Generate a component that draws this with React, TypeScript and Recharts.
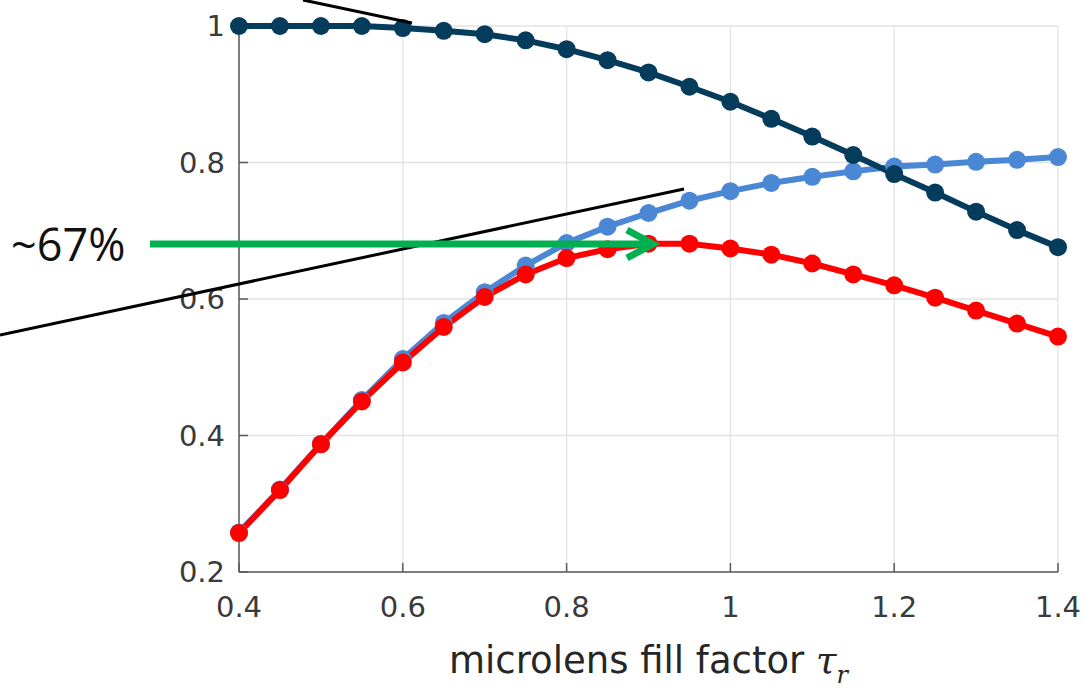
import { CartesianGrid, Line, LineChart, XAxis, YAxis } from 'recharts'

// microlens fill factor, sampled every 0.05
const fillFactor = [0.4, 0.45, 0.5, 0.55, 0.6, 0.65, 0.7, 0.75, 0.8, 0.85, 0.9, 0.95, 1, 1.05, 1.1, 1.15, 1.2, 1.25, 1.3, 1.35, 1.4]
const navySeries = [1, 1, 1, 1, 0.997, 0.993, 0.988, 0.979, 0.966, 0.95, 0.932, 0.911, 0.889, 0.864, 0.838, 0.811, 0.783, 0.756, 0.728, 0.701, 0.676]
const blueSeries = [0.258, 0.321, 0.388, 0.452, 0.512, 0.565, 0.61, 0.649, 0.682, 0.706, 0.726, 0.744, 0.758, 0.77, 0.779, 0.787, 0.794, 0.797, 0.801, 0.804, 0.808]
const redSeries = [0.257, 0.32, 0.387, 0.45, 0.507, 0.559, 0.603, 0.636, 0.66, 0.673, 0.681, 0.681, 0.674, 0.665, 0.652, 0.636, 0.62, 0.602, 0.583, 0.564, 0.545]

const xTicks = [0.4, 0.6, 0.8, 1, 1.2, 1.4]
const yTicks = [0.2, 0.4, 0.6, 0.8, 1]

const data = fillFactor.map((x, i) => ({ x, navy: navySeries[i], blue: blueSeries[i], red: redSeries[i] }))

const tickStyle = { fill: '#3a3a3a', fontSize: 29, fontFamily: 'DejaVu Sans' }
const axisLine = { stroke: '#5a5a5a', strokeWidth: 1.5 }
const tickLine = { stroke: '#5a5a5a', strokeWidth: 1.5 }

const renderAxisTitle = (props: any) => {
  const { x, y, width } = props.viewBox
  return (
    <text x={x + width / 2} y={y + 101} textAnchor="middle" fontFamily="DejaVu Sans" fontSize={37} fill="#262626">
      microlens fill factor{' '}
      <tspan fontFamily="DejaVu Serif" fontStyle="italic">τ</tspan>
      <tspan fontFamily="DejaVu Serif" fontStyle="italic" fontSize={24} dy={10}>r</tspan>
    </text>
  )
}

export default function App() {
  return (
    <div style={{ position: 'absolute', left: 0, top: 0, width: 1084, height: 693, background: '#fff' }}>
      <LineChart width={1084} height={693} data={data} margin={{ top: 26, right: 26, bottom: 61, left: 179 }}>
        <CartesianGrid stroke="#e3e3e3" strokeWidth={1.3} />
        <XAxis
          dataKey="x"
          type="number"
          domain={[0.4, 1.4]}
          ticks={xTicks}
          height={60}
          fontSize={29}
          tick={tickStyle}
          tickSize={-9}
          tickMargin={33}
          axisLine={axisLine}
          tickLine={tickLine}
          label={{ content: renderAxisTitle }}
        />
        <XAxis
          xAxisId="top"
          orientation="top"
          type="number"
          domain={[0.4, 1.4]}
          ticks={xTicks}
          height={0}
          tick={false}
          tickSize={-9}
          axisLine={axisLine}
          tickLine={tickLine}
        />
        <YAxis
          type="number"
          domain={[0.2, 1]}
          ticks={yTicks}
          width={60}
          fontSize={29}
          tick={tickStyle}
          tickSize={-9}
          tickMargin={23}
          axisLine={axisLine}
          tickLine={tickLine}
        />
        <YAxis
          yAxisId="right"
          orientation="right"
          type="number"
          domain={[0.2, 1]}
          ticks={yTicks}
          width={0}
          tick={false}
          tickSize={-9}
          axisLine={axisLine}
          tickLine={tickLine}
        />
        <Line dataKey="blue" stroke="#4a88d6" strokeWidth={6} dot={{ r: 9, fill: '#4a88d6', stroke: 'none' }} isAnimationActive={false} />
        <Line dataKey="red" stroke="#ff0000" strokeWidth={6} dot={{ r: 9, fill: '#ff0000', stroke: 'none' }} isAnimationActive={false} />
        <Line dataKey="navy" stroke="#053b5b" strokeWidth={6} dot={{ r: 9, fill: '#053b5b', stroke: 'none' }} isAnimationActive={false} />
      </LineChart>
      {/* callout layer: pointer lines, the ~67% note and its arrow */}
      <svg width={1084} height={693} style={{ position: 'absolute', left: 0, top: 0, pointerEvents: 'none' }}>
        <line x1={0} y1={335} x2={684} y2={189} stroke="#000" strokeWidth={3} />
        <line x1={303} y1={0} x2={412} y2={23} stroke="#000" strokeWidth={3} />
        <line x1={150} y1={244} x2={650} y2={244} stroke="#00b050" strokeWidth={7} />
        <path d="M 627 230 L 653 244 L 627 258" fill="none" stroke="#00b050" strokeWidth={7} />
        <text x={11} y={261} fontFamily="Open Sans" fontSize={45} fill="#111">~67%</text>
      </svg>
    </div>
  )
}
